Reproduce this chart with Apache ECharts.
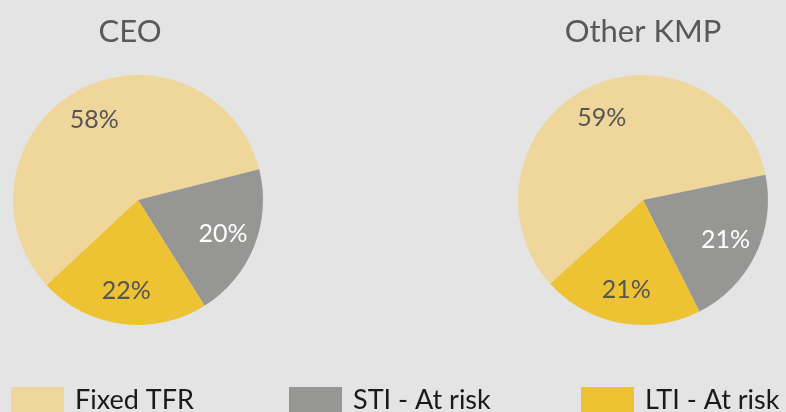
<!DOCTYPE html>
<html>
<head>
<meta charset="utf-8">
<script src="https://cdn.jsdelivr.net/npm/echarts@6/dist/echarts.min.js"></script>
<style>
html,body{margin:0;padding:0;background:#e4e4e4;}
#c{width:786px;height:412px;}
</style>
</head>
<body>
<div id="c"></div>
<script>
const categories = ['Fixed TFR', 'STI - At risk', 'LTI - At risk'];
const chartTitles = ['CEO', 'Other KMP'];
const ceoValues = [58, 20, 22];
const kmpValues = [59, 21, 21];
const colors = ['#efd69b', '#969694', '#edc333'];
const labelColors = ['#555555', '#ffffff', '#555555'];

const font = 'Lato, "Open Sans", sans-serif';

function pieData(vals) {
  return categories.map((c, i) => ({
    name: c, value: vals[i],
    itemStyle: { color: colors[i] }
  }));
}
function pieSeries(vals, cx, start) {
  return [{
    type: 'pie', center: [cx, 200], radius: [0, 125], startAngle: start,
    clockwise: true, silent: true, animation: false,
    label: { show: false }, labelLine: { show: false },
    itemStyle: { borderWidth: 0 },
    data: pieData(vals)
  }, {
    type: 'pie', center: [cx, 200], radius: [52, 125], startAngle: start,
    clockwise: true, silent: true, animation: false,
    itemStyle: { color: 'rgba(0,0,0,0)', borderWidth: 0 },
    label: { show: true, position: 'inside', fontFamily: font, fontSize: 25,
      formatter: p => p.value + '%' },
    labelLine: { show: false },
    data: categories.map((c, i) => ({ name: c, value: vals[i],
      itemStyle: { color: 'rgba(0,0,0,0)' }, label: { color: labelColors[i] } }))
  }];
}

const chart = echarts.init(document.getElementById('c'), null, { renderer: 'canvas' });
const legendPos = [11, 289, 581];
chart.setOption({
  backgroundColor: '#e4e4e4',
  animation: false,
  color: colors,
  title: [
    { text: chartTitles[0], left: 125, top: 11, textAlign: 'center',
      textStyle: { fontFamily: font, fontSize: 31, fontWeight: 'normal', color: '#595959' } },
    { text: chartTitles[1], left: 638, top: 11, textAlign: 'center',
      textStyle: { fontFamily: font, fontSize: 31, fontWeight: 'normal', color: '#595959' } }
  ],
  legend: categories.map((c, i) => ({
    data: [{ name: c, itemStyle: { color: colors[i] } }],
    left: legendPos[i], top: 387, padding: 0, itemWidth: 53, itemHeight: 27, itemGap: 0,
    icon: 'rect', selectedMode: false,
    textStyle: { fontFamily: font, fontSize: 27, color: '#1a1a1a', padding: [0, 0, 7, 6] }
  })),
  series: [
    ...pieSeries(ceoValues, 138, 223),
    ...pieSeries(kmpValues, 643, 222)
  ]
});
</script>
</body>
</html>
